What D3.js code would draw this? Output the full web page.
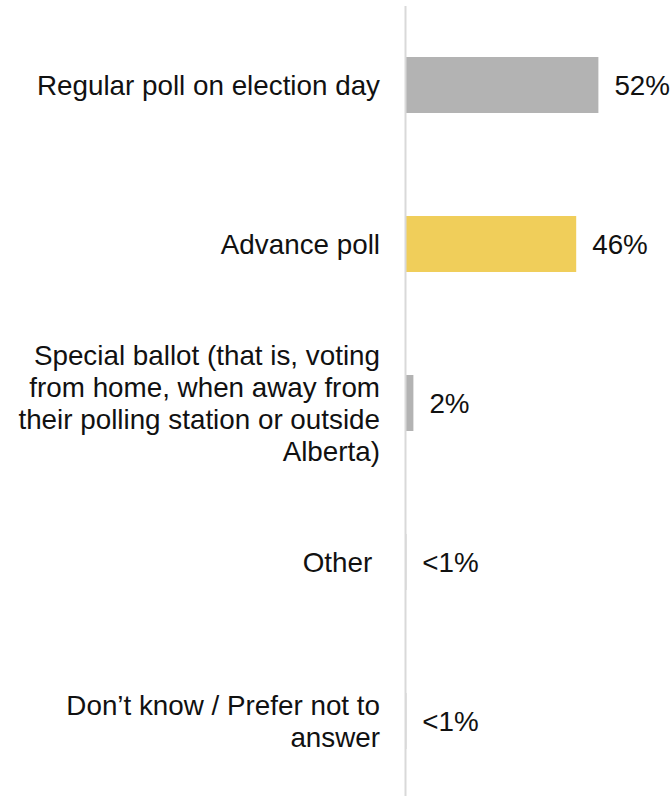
<!DOCTYPE html>
<html>
<head>
<meta charset="utf-8">
<script src="https://cdn.jsdelivr.net/npm/d3@7"></script>
<style>
  html, body { margin: 0; padding: 0; background: #fff; }
  svg { display: block; }
  text { font-family: "Liberation Sans", Arial, sans-serif; fill: #111; }
</style>
</head>
<body>
<svg id="chart" width="671" height="796"></svg>
<script>
const categories = [
  "Regular poll on election day",
  "Advance poll",
  "Special ballot (that is, voting\nfrom home, when away from\ntheir polling station or outside\nAlberta)",
  "Other ",
  "Don\u2019t know / Prefer not to\nanswer"
];
const values = [52, 46, 2, 0.1, 0.1];
const valueLabels = ["52%", "46%", "2%", "<1%", "<1%"];
const barColors = ["#b3b3b3", "#f0ce5a", "#b3b3b3", "#b3b3b3", "#b3b3b3"];

const svg = d3.select("#chart");
const x0 = 406;
const fontSize = 27.8;
const lineH = 32;

const y = d3.scaleBand()
  .domain(categories)
  .range([5.5, 800.5])
  .paddingInner(0.648)
  .paddingOuter(0.324);

const x = d3.scaleLinear().domain([0, 100]).range([x0, x0 + 370]);

const data = categories.map((c, i) => ({ c, v: values[i], l: valueLabels[i], col: barColors[i] }));

// bars
svg.append("g").selectAll("rect").data(data).join("rect")
  .attr("x", x(0))
  .attr("y", d => y(d.c))
  .attr("width", d => x(d.v) - x(0))
  .attr("height", y.bandwidth())
  .attr("fill", d => d.col);

// axis line
const axis = svg.append("g")
  .attr("transform", `translate(${x0 - 1},0)`)
  .call(d3.axisLeft(y).tickSize(0).tickFormat(""));
axis.select(".domain").attr("stroke", "#d9d9d9").attr("stroke-width", 2);

// category labels
const labels = svg.append("g").selectAll("text").data(data).join("text")
  .attr("text-anchor", "end")
  .attr("font-size", fontSize)
  .style("white-space", "pre");
labels.each(function(d) {
  const lines = d.c.split("\n");
  const cy = y(d.c) + y.bandwidth() / 2;
  const t = d3.select(this);
  lines.forEach((ln, i) => {
    t.append("tspan")
      .attr("x", 380)
      .attr("y", cy + (i - (lines.length - 1) / 2) * lineH + fontSize * 0.37)
      .text(ln);
  });
});

// value labels
svg.append("g").selectAll("text").data(data).join("text")
  .attr("x", d => x(d.v) + 16)
  .attr("y", d => y(d.c) + y.bandwidth() / 2 + fontSize * 0.37)
  .attr("font-size", fontSize)
  .text(d => d.l);
</script>
</body>
</html>
